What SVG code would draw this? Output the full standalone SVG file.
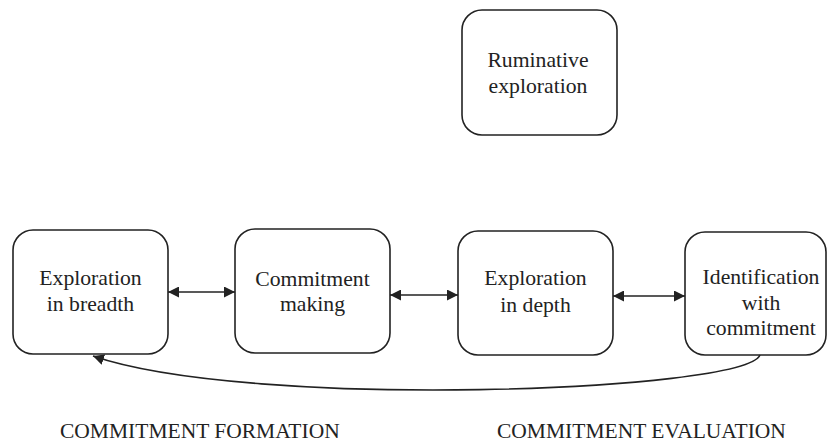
<svg xmlns="http://www.w3.org/2000/svg" width="827" height="445" viewBox="0 0 827 445">
<defs>
<style>
.box{fill:#fff;stroke:#222;stroke-width:1.6}
.t{font-family:'Liberation Serif','DejaVu Serif',serif;font-size:21.7px;fill:#222;text-anchor:middle}
.lbl{font-family:'Liberation Serif','DejaVu Serif',serif;font-size:21.5px;fill:#222}
.c{fill:none;stroke:#222;stroke-width:1.6}
</style>
<marker id="ah2" viewBox="0 0 10 10" refX="10" refY="5" markerWidth="11" markerHeight="11" markerUnits="userSpaceOnUse" orient="auto-start-reverse">
<path d="M0,0 L10,5 L0,10 z" fill="#222"/>
</marker>
</defs>
<g id="ruminative">
<rect class="box" x="462" y="10" width="155" height="125" rx="20"/>
<text class="t" x="538" y="67">Ruminative</text>
<text class="t" x="538" y="93">exploration</text>
</g>
<g id="breadth">
<rect class="box" x="13" y="230" width="155" height="124" rx="20"/>
<text class="t" x="90.5" y="285">Exploration</text>
<text class="t" x="90.5" y="311">in breadth</text>
</g>
<g id="making">
<rect class="box" x="235" y="229" width="155" height="124" rx="20"/>
<text class="t" x="312.5" y="286">Commitment</text>
<text class="t" x="312.5" y="311">making</text>
</g>
<g id="depth">
<rect class="box" x="458" y="231" width="155" height="124" rx="20"/>
<text class="t" x="535.5" y="285">Exploration</text>
<text class="t" x="535.5" y="312">in depth</text>
</g>
<g id="identification">
<rect class="box" x="685" y="232" width="141" height="123" rx="20"/>
<text class="t" x="761" y="284">Identification</text>
<text class="t" x="761" y="310">with</text>
<text class="t" x="761" y="335">commitment</text>
</g>
<g id="connectors">
<line class="c" x1="168" y1="292" x2="235" y2="292" marker-start="url(#ah2)" marker-end="url(#ah2)"/>
<line class="c" x1="390" y1="295" x2="458" y2="295" marker-start="url(#ah2)" marker-end="url(#ah2)"/>
<line class="c" x1="613" y1="296" x2="685" y2="296" marker-start="url(#ah2)" marker-end="url(#ah2)"/>
<path class="c" d="M760,355 C745,392 250,410 93,356" marker-end="url(#ah2)"/>
</g>
<g id="labels">
<text class="lbl" x="60" y="438">COMMITMENT FORMATION</text>
<text class="lbl" x="497" y="438">COMMITMENT EVALUATION</text>
</g>
</svg>
